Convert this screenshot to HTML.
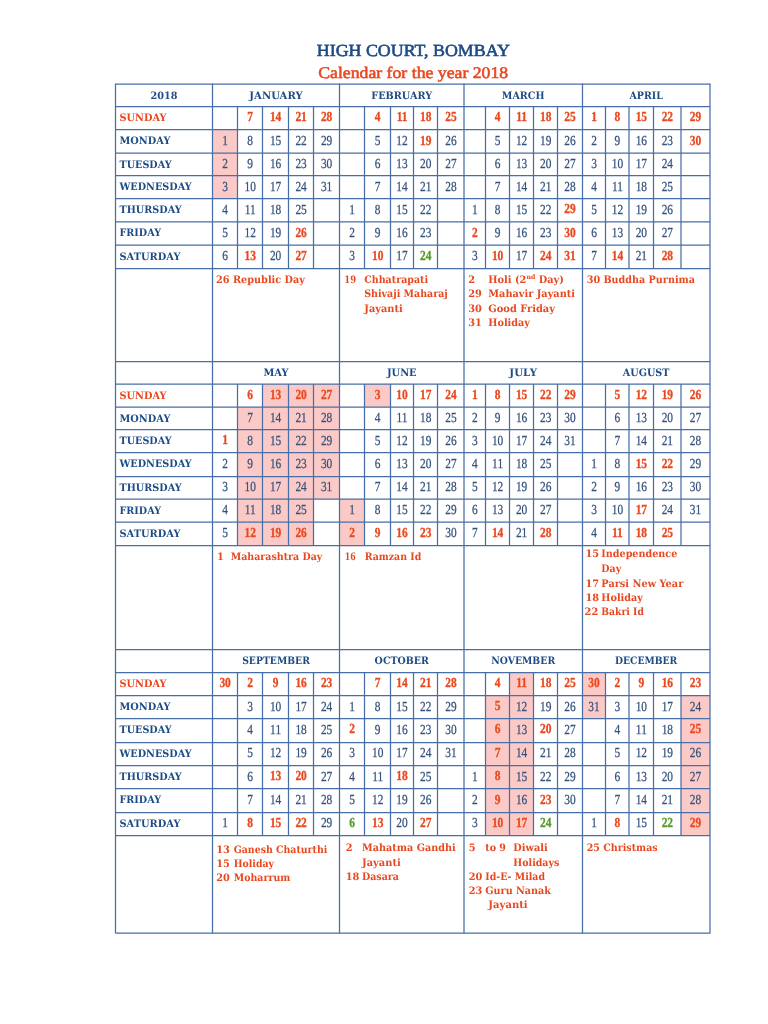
<!DOCTYPE html>
<html lang="en"><head><meta charset="utf-8"><title>High Court, Bombay - Calendar for the year 2018</title>
<style>html,body{margin:0;padding:0;background:#fff}svg{display:block;text-rendering:geometricPrecision}.lb{font-family:"DejaVu Serif",serif;font-weight:bold;font-size:9.8px}.nt{font-family:"DejaVu Serif",serif;font-weight:bold;font-size:9.8px;fill:#e9481f}.d{font-family:"Liberation Serif",serif;font-size:13.8px;fill:#33517c;stroke:#33517c;stroke-width:0.25px;text-anchor:middle}.b{font-family:"Liberation Serif",serif;font-size:13.8px;font-weight:bold;stroke-width:0.3px;text-anchor:middle}.t1{font-family:"Liberation Serif",serif;font-size:17px;fill:#1d4b85;stroke:#1d4b85;stroke-width:0.6px;text-anchor:middle}.t2{font-family:"Liberation Serif",serif;font-size:16.3px;fill:#e9481f;stroke:#e9481f;stroke-width:0.55px;text-anchor:middle}</style></head><body>
<svg width="768" height="1024" viewBox="0 0 768 1024">
<rect width="768" height="1024" fill="#fff"/>
<text class="t1" x="413.3" y="56.3" textLength="193" lengthAdjust="spacingAndGlyphs">HIGH COURT, BOMBAY</text>
<text class="t2" x="413.2" y="77.6" textLength="190" lengthAdjust="spacingAndGlyphs">Calendar for the year 2018</text>
<rect x="212.50" y="129.75" width="25.20" height="23.30" fill="#fccac6"/>
<rect x="212.50" y="153.05" width="25.20" height="22.80" fill="#fccac6"/>
<rect x="212.50" y="175.85" width="25.20" height="22.50" fill="#fccac6"/>
<rect x="237.70" y="407.00" width="25.00" height="22.50" fill="#fccac6"/>
<rect x="237.70" y="429.50" width="25.00" height="23.25" fill="#fccac6"/>
<rect x="237.70" y="452.75" width="25.00" height="23.50" fill="#fccac6"/>
<rect x="237.70" y="476.25" width="25.00" height="22.75" fill="#fccac6"/>
<rect x="237.70" y="499.00" width="25.00" height="23.00" fill="#fccac6"/>
<rect x="237.70" y="522.00" width="25.00" height="23.25" fill="#fccac6"/>
<rect x="262.70" y="384.00" width="25.80" height="23.00" fill="#fccac6"/>
<rect x="262.70" y="407.00" width="25.80" height="22.50" fill="#fccac6"/>
<rect x="262.70" y="429.50" width="25.80" height="23.25" fill="#fccac6"/>
<rect x="262.70" y="452.75" width="25.80" height="23.50" fill="#fccac6"/>
<rect x="262.70" y="476.25" width="25.80" height="22.75" fill="#fccac6"/>
<rect x="262.70" y="499.00" width="25.80" height="23.00" fill="#fccac6"/>
<rect x="262.70" y="522.00" width="25.80" height="23.25" fill="#fccac6"/>
<rect x="288.50" y="384.00" width="25.20" height="23.00" fill="#fccac6"/>
<rect x="288.50" y="407.00" width="25.20" height="22.50" fill="#fccac6"/>
<rect x="288.50" y="429.50" width="25.20" height="23.25" fill="#fccac6"/>
<rect x="288.50" y="452.75" width="25.20" height="23.50" fill="#fccac6"/>
<rect x="288.50" y="476.25" width="25.20" height="22.75" fill="#fccac6"/>
<rect x="288.50" y="499.00" width="25.20" height="23.00" fill="#fccac6"/>
<rect x="288.50" y="522.00" width="25.20" height="23.25" fill="#fccac6"/>
<rect x="313.70" y="384.00" width="25.80" height="23.00" fill="#fccac6"/>
<rect x="313.70" y="407.00" width="25.80" height="22.50" fill="#fccac6"/>
<rect x="313.70" y="429.50" width="25.80" height="23.25" fill="#fccac6"/>
<rect x="313.70" y="452.75" width="25.80" height="23.50" fill="#fccac6"/>
<rect x="313.70" y="476.25" width="25.80" height="22.75" fill="#fccac6"/>
<rect x="339.50" y="499.00" width="25.20" height="23.00" fill="#fccac6"/>
<rect x="339.50" y="522.00" width="25.20" height="23.25" fill="#fccac6"/>
<rect x="364.70" y="384.00" width="25.90" height="23.00" fill="#fccac6"/>
<rect x="485.60" y="695.50" width="24.00" height="23.00" fill="#fccac6"/>
<rect x="485.60" y="718.50" width="24.00" height="23.75" fill="#fccac6"/>
<rect x="485.60" y="742.25" width="24.00" height="23.25" fill="#fccac6"/>
<rect x="485.60" y="765.50" width="24.00" height="23.25" fill="#fccac6"/>
<rect x="485.60" y="788.75" width="24.00" height="23.50" fill="#fccac6"/>
<rect x="485.60" y="812.25" width="24.00" height="23.25" fill="#fccac6"/>
<rect x="509.60" y="672.25" width="24.00" height="23.25" fill="#fccac6"/>
<rect x="509.60" y="695.50" width="24.00" height="23.00" fill="#fccac6"/>
<rect x="509.60" y="718.50" width="24.00" height="23.75" fill="#fccac6"/>
<rect x="509.60" y="742.25" width="24.00" height="23.25" fill="#fccac6"/>
<rect x="509.60" y="765.50" width="24.00" height="23.25" fill="#fccac6"/>
<rect x="509.60" y="788.75" width="24.00" height="23.50" fill="#fccac6"/>
<rect x="509.60" y="812.25" width="24.00" height="23.25" fill="#fccac6"/>
<rect x="582.30" y="672.25" width="23.45" height="23.25" fill="#fccac6"/>
<rect x="582.30" y="695.50" width="23.45" height="23.00" fill="#fccac6"/>
<rect x="681.00" y="695.50" width="29.00" height="23.00" fill="#fccac6"/>
<rect x="681.00" y="718.50" width="29.00" height="23.75" fill="#fccac6"/>
<rect x="681.00" y="742.25" width="29.00" height="23.25" fill="#fccac6"/>
<rect x="681.00" y="765.50" width="29.00" height="23.25" fill="#fccac6"/>
<rect x="681.00" y="788.75" width="29.00" height="23.50" fill="#fccac6"/>
<rect x="681.00" y="812.25" width="29.00" height="23.25" fill="#fccac6"/>
<g stroke="#476ea6" stroke-width="1.25" fill="none">
<line x1="115.75" y1="84.10" x2="710.00" y2="84.10"/>
<line x1="115.75" y1="106.50" x2="710.00" y2="106.50"/>
<line x1="115.75" y1="129.50" x2="710.00" y2="129.50"/>
<line x1="115.75" y1="153.05" x2="710.00" y2="153.05"/>
<line x1="115.75" y1="175.50" x2="710.00" y2="175.50"/>
<line x1="115.75" y1="198.50" x2="710.00" y2="198.50"/>
<line x1="115.75" y1="221.90" x2="710.00" y2="221.90"/>
<line x1="115.75" y1="245.15" x2="710.00" y2="245.15"/>
<line x1="115.75" y1="268.50" x2="710.00" y2="268.50"/>
<line x1="237.50" y1="106.35" x2="237.50" y2="268.50"/>
<line x1="262.50" y1="106.35" x2="262.50" y2="268.50"/>
<line x1="288.50" y1="106.35" x2="288.50" y2="268.50"/>
<line x1="313.50" y1="106.35" x2="313.50" y2="268.50"/>
<line x1="364.50" y1="106.35" x2="364.50" y2="268.50"/>
<line x1="390.50" y1="106.35" x2="390.50" y2="268.50"/>
<line x1="413.50" y1="106.35" x2="413.50" y2="268.50"/>
<line x1="437.50" y1="106.35" x2="437.50" y2="268.50"/>
<line x1="485.50" y1="106.35" x2="485.50" y2="268.50"/>
<line x1="509.50" y1="106.35" x2="509.50" y2="268.50"/>
<line x1="533.50" y1="106.35" x2="533.50" y2="268.50"/>
<line x1="557.50" y1="106.35" x2="557.50" y2="268.50"/>
<line x1="605.50" y1="106.35" x2="605.50" y2="268.50"/>
<line x1="629.00" y1="106.35" x2="629.00" y2="268.50"/>
<line x1="653.50" y1="106.35" x2="653.50" y2="268.50"/>
<line x1="681.00" y1="106.35" x2="681.00" y2="268.50"/>
<line x1="115.75" y1="361.50" x2="710.00" y2="361.50"/>
<line x1="115.75" y1="384.00" x2="710.00" y2="384.00"/>
<line x1="115.75" y1="407.00" x2="710.00" y2="407.00"/>
<line x1="115.75" y1="429.50" x2="710.00" y2="429.50"/>
<line x1="115.75" y1="452.50" x2="710.00" y2="452.50"/>
<line x1="115.75" y1="476.50" x2="710.00" y2="476.50"/>
<line x1="115.75" y1="499.00" x2="710.00" y2="499.00"/>
<line x1="115.75" y1="522.00" x2="710.00" y2="522.00"/>
<line x1="115.75" y1="545.50" x2="710.00" y2="545.50"/>
<line x1="237.50" y1="384.00" x2="237.50" y2="545.25"/>
<line x1="262.50" y1="384.00" x2="262.50" y2="545.25"/>
<line x1="288.50" y1="384.00" x2="288.50" y2="545.25"/>
<line x1="313.50" y1="384.00" x2="313.50" y2="545.25"/>
<line x1="364.50" y1="384.00" x2="364.50" y2="545.25"/>
<line x1="390.50" y1="384.00" x2="390.50" y2="545.25"/>
<line x1="413.50" y1="384.00" x2="413.50" y2="545.25"/>
<line x1="437.50" y1="384.00" x2="437.50" y2="545.25"/>
<line x1="485.50" y1="384.00" x2="485.50" y2="545.25"/>
<line x1="509.50" y1="384.00" x2="509.50" y2="545.25"/>
<line x1="533.50" y1="384.00" x2="533.50" y2="545.25"/>
<line x1="557.50" y1="384.00" x2="557.50" y2="545.25"/>
<line x1="605.50" y1="384.00" x2="605.50" y2="545.25"/>
<line x1="629.00" y1="384.00" x2="629.00" y2="545.25"/>
<line x1="653.50" y1="384.00" x2="653.50" y2="545.25"/>
<line x1="681.00" y1="384.00" x2="681.00" y2="545.25"/>
<line x1="115.75" y1="649.50" x2="710.00" y2="649.50"/>
<line x1="115.75" y1="672.50" x2="710.00" y2="672.50"/>
<line x1="115.75" y1="695.50" x2="710.00" y2="695.50"/>
<line x1="115.75" y1="718.50" x2="710.00" y2="718.50"/>
<line x1="115.75" y1="742.50" x2="710.00" y2="742.50"/>
<line x1="115.75" y1="765.50" x2="710.00" y2="765.50"/>
<line x1="115.75" y1="788.50" x2="710.00" y2="788.50"/>
<line x1="115.75" y1="812.50" x2="710.00" y2="812.50"/>
<line x1="115.75" y1="835.50" x2="710.00" y2="835.50"/>
<line x1="237.50" y1="672.25" x2="237.50" y2="835.50"/>
<line x1="262.50" y1="672.25" x2="262.50" y2="835.50"/>
<line x1="288.50" y1="672.25" x2="288.50" y2="835.50"/>
<line x1="313.50" y1="672.25" x2="313.50" y2="835.50"/>
<line x1="364.50" y1="672.25" x2="364.50" y2="835.50"/>
<line x1="390.50" y1="672.25" x2="390.50" y2="835.50"/>
<line x1="413.50" y1="672.25" x2="413.50" y2="835.50"/>
<line x1="437.50" y1="672.25" x2="437.50" y2="835.50"/>
<line x1="485.50" y1="672.25" x2="485.50" y2="835.50"/>
<line x1="509.50" y1="672.25" x2="509.50" y2="835.50"/>
<line x1="533.50" y1="672.25" x2="533.50" y2="835.50"/>
<line x1="557.50" y1="672.25" x2="557.50" y2="835.50"/>
<line x1="605.50" y1="672.25" x2="605.50" y2="835.50"/>
<line x1="629.00" y1="672.25" x2="629.00" y2="835.50"/>
<line x1="653.50" y1="672.25" x2="653.50" y2="835.50"/>
<line x1="681.00" y1="672.25" x2="681.00" y2="835.50"/>
<line x1="115.75" y1="933.00" x2="710.00" y2="933.00"/>
<line x1="115.50" y1="83.47" x2="115.50" y2="933.62"/>
<line x1="212.50" y1="83.47" x2="212.50" y2="933.62"/>
<line x1="339.50" y1="83.47" x2="339.50" y2="933.62"/>
<line x1="464.00" y1="83.47" x2="464.00" y2="933.62"/>
<line x1="582.50" y1="83.47" x2="582.50" y2="933.62"/>
<line x1="710.00" y1="83.47" x2="710.00" y2="933.62"/>
</g>
<text class="lb" transform="translate(164.12 98.60) scale(1 1.050)" fill="#1d4b85" text-anchor="middle" textLength="27.0" lengthAdjust="spacingAndGlyphs">2018</text>
<text class="lb" transform="translate(276.00 98.60) scale(1 1.050)" fill="#1d4b85" text-anchor="middle" textLength="53.3" lengthAdjust="spacingAndGlyphs">JANUARY</text>
<text class="lb" transform="translate(401.75 98.60) scale(1 1.050)" fill="#1d4b85" text-anchor="middle" textLength="61.0" lengthAdjust="spacingAndGlyphs">FEBRUARY</text>
<text class="lb" transform="translate(523.15 98.60) scale(1 1.050)" fill="#1d4b85" text-anchor="middle" textLength="42.7" lengthAdjust="spacingAndGlyphs">MARCH</text>
<text class="lb" transform="translate(646.15 98.60) scale(1 1.050)" fill="#1d4b85" text-anchor="middle" textLength="33.3" lengthAdjust="spacingAndGlyphs">APRIL</text>
<text class="lb" transform="translate(119.50 120.85) scale(1 1.050)" fill="#e9481f" textLength="47.0" lengthAdjust="spacingAndGlyphs">SUNDAY</text>
<text class="lb" transform="translate(119.50 144.25) scale(1 1.050)" fill="#1d4b85" textLength="50.9" lengthAdjust="spacingAndGlyphs">MONDAY</text>
<text class="lb" transform="translate(119.50 167.55) scale(1 1.050)" fill="#1d4b85" textLength="52.1" lengthAdjust="spacingAndGlyphs">TUESDAY</text>
<text class="lb" transform="translate(119.50 190.35) scale(1 1.050)" fill="#1d4b85" textLength="72.1" lengthAdjust="spacingAndGlyphs">WEDNESDAY</text>
<text class="lb" transform="translate(119.50 212.85) scale(1 1.050)" fill="#1d4b85" textLength="62.1" lengthAdjust="spacingAndGlyphs">THURSDAY</text>
<text class="lb" transform="translate(119.50 236.40) scale(1 1.050)" fill="#1d4b85" textLength="41.6" lengthAdjust="spacingAndGlyphs">FRIDAY</text>
<text class="lb" transform="translate(119.50 259.65) scale(1 1.050)" fill="#1d4b85" textLength="60.9" lengthAdjust="spacingAndGlyphs">SATURDAY</text>
<text class="d" transform="translate(225.10 144.90) scale(0.825 1)">1</text>
<text class="d" transform="translate(225.10 168.20) scale(0.825 1)">2</text>
<text class="d" transform="translate(225.10 191.00) scale(0.825 1)">3</text>
<text class="d" transform="translate(225.10 213.50) scale(0.825 1)">4</text>
<text class="d" transform="translate(225.10 237.05) scale(0.825 1)">5</text>
<text class="d" transform="translate(225.10 260.30) scale(0.825 1)">6</text>
<text class="b" transform="translate(250.20 121.10) scale(0.830 1)" fill="#e9481f" stroke="#e9481f">7</text>
<text class="d" transform="translate(250.20 144.90) scale(0.825 1)">8</text>
<text class="d" transform="translate(250.20 168.20) scale(0.825 1)">9</text>
<text class="d" transform="translate(250.20 191.00) scale(0.825 1)">10</text>
<text class="d" transform="translate(250.20 213.50) scale(0.825 1)">11</text>
<text class="d" transform="translate(250.20 237.05) scale(0.825 1)">12</text>
<text class="b" transform="translate(250.20 259.90) scale(0.830 1)" fill="#e9481f" stroke="#e9481f">13</text>
<text class="b" transform="translate(275.60 121.10) scale(0.830 1)" fill="#e9481f" stroke="#e9481f">14</text>
<text class="d" transform="translate(275.60 144.90) scale(0.825 1)">15</text>
<text class="d" transform="translate(275.60 168.20) scale(0.825 1)">16</text>
<text class="d" transform="translate(275.60 191.00) scale(0.825 1)">17</text>
<text class="d" transform="translate(275.60 213.50) scale(0.825 1)">18</text>
<text class="d" transform="translate(275.60 237.05) scale(0.825 1)">19</text>
<text class="d" transform="translate(275.60 260.30) scale(0.825 1)">20</text>
<text class="b" transform="translate(301.10 121.10) scale(0.830 1)" fill="#e9481f" stroke="#e9481f">21</text>
<text class="d" transform="translate(301.10 144.90) scale(0.825 1)">22</text>
<text class="d" transform="translate(301.10 168.20) scale(0.825 1)">23</text>
<text class="d" transform="translate(301.10 191.00) scale(0.825 1)">24</text>
<text class="d" transform="translate(301.10 213.50) scale(0.825 1)">25</text>
<text class="b" transform="translate(301.10 236.65) scale(0.830 1)" fill="#e9481f" stroke="#e9481f">26</text>
<text class="b" transform="translate(301.10 259.90) scale(0.830 1)" fill="#e9481f" stroke="#e9481f">27</text>
<text class="b" transform="translate(326.60 121.10) scale(0.830 1)" fill="#e9481f" stroke="#e9481f">28</text>
<text class="d" transform="translate(326.60 144.90) scale(0.825 1)">29</text>
<text class="d" transform="translate(326.60 168.20) scale(0.825 1)">30</text>
<text class="d" transform="translate(326.60 191.00) scale(0.825 1)">31</text>
<text class="d" transform="translate(352.10 213.50) scale(0.825 1)">1</text>
<text class="d" transform="translate(352.10 237.05) scale(0.825 1)">2</text>
<text class="d" transform="translate(352.10 260.30) scale(0.825 1)">3</text>
<text class="b" transform="translate(377.65 121.10) scale(0.830 1)" fill="#e9481f" stroke="#e9481f">4</text>
<text class="d" transform="translate(377.65 144.90) scale(0.825 1)">5</text>
<text class="d" transform="translate(377.65 168.20) scale(0.825 1)">6</text>
<text class="d" transform="translate(377.65 191.00) scale(0.825 1)">7</text>
<text class="d" transform="translate(377.65 213.50) scale(0.825 1)">8</text>
<text class="d" transform="translate(377.65 237.05) scale(0.825 1)">9</text>
<text class="b" transform="translate(377.65 259.90) scale(0.830 1)" fill="#e9481f" stroke="#e9481f">10</text>
<text class="b" transform="translate(402.05 121.10) scale(0.830 1)" fill="#e9481f" stroke="#e9481f">11</text>
<text class="d" transform="translate(402.05 144.90) scale(0.825 1)">12</text>
<text class="d" transform="translate(402.05 168.20) scale(0.825 1)">13</text>
<text class="d" transform="translate(402.05 191.00) scale(0.825 1)">14</text>
<text class="d" transform="translate(402.05 213.50) scale(0.825 1)">15</text>
<text class="d" transform="translate(402.05 237.05) scale(0.825 1)">16</text>
<text class="d" transform="translate(402.05 260.30) scale(0.825 1)">17</text>
<text class="b" transform="translate(425.65 121.10) scale(0.830 1)" fill="#e9481f" stroke="#e9481f">18</text>
<text class="b" transform="translate(425.65 144.50) scale(0.830 1)" fill="#e9481f" stroke="#e9481f">19</text>
<text class="d" transform="translate(425.65 168.20) scale(0.825 1)">20</text>
<text class="d" transform="translate(425.65 191.00) scale(0.825 1)">21</text>
<text class="d" transform="translate(425.65 213.50) scale(0.825 1)">22</text>
<text class="d" transform="translate(425.65 237.05) scale(0.825 1)">23</text>
<text class="b" transform="translate(425.65 259.90) scale(0.830 1)" fill="#5b9a2b" stroke="#5b9a2b">24</text>
<text class="b" transform="translate(450.90 121.10) scale(0.830 1)" fill="#e9481f" stroke="#e9481f">25</text>
<text class="d" transform="translate(450.90 144.90) scale(0.825 1)">26</text>
<text class="d" transform="translate(450.90 168.20) scale(0.825 1)">27</text>
<text class="d" transform="translate(450.90 191.00) scale(0.825 1)">28</text>
<text class="d" transform="translate(474.80 213.50) scale(0.825 1)">1</text>
<text class="b" transform="translate(474.80 236.65) scale(0.830 1)" fill="#e9481f" stroke="#e9481f">2</text>
<text class="d" transform="translate(474.80 260.30) scale(0.825 1)">3</text>
<text class="b" transform="translate(497.60 121.10) scale(0.830 1)" fill="#e9481f" stroke="#e9481f">4</text>
<text class="d" transform="translate(497.60 144.90) scale(0.825 1)">5</text>
<text class="d" transform="translate(497.60 168.20) scale(0.825 1)">6</text>
<text class="d" transform="translate(497.60 191.00) scale(0.825 1)">7</text>
<text class="d" transform="translate(497.60 213.50) scale(0.825 1)">8</text>
<text class="d" transform="translate(497.60 237.05) scale(0.825 1)">9</text>
<text class="b" transform="translate(497.60 259.90) scale(0.830 1)" fill="#e9481f" stroke="#e9481f">10</text>
<text class="b" transform="translate(521.60 121.10) scale(0.830 1)" fill="#e9481f" stroke="#e9481f">11</text>
<text class="d" transform="translate(521.60 144.90) scale(0.825 1)">12</text>
<text class="d" transform="translate(521.60 168.20) scale(0.825 1)">13</text>
<text class="d" transform="translate(521.60 191.00) scale(0.825 1)">14</text>
<text class="d" transform="translate(521.60 213.50) scale(0.825 1)">15</text>
<text class="d" transform="translate(521.60 237.05) scale(0.825 1)">16</text>
<text class="d" transform="translate(521.60 260.30) scale(0.825 1)">17</text>
<text class="b" transform="translate(545.65 121.10) scale(0.830 1)" fill="#e9481f" stroke="#e9481f">18</text>
<text class="d" transform="translate(545.65 144.90) scale(0.825 1)">19</text>
<text class="d" transform="translate(545.65 168.20) scale(0.825 1)">20</text>
<text class="d" transform="translate(545.65 191.00) scale(0.825 1)">21</text>
<text class="d" transform="translate(545.65 213.50) scale(0.825 1)">22</text>
<text class="d" transform="translate(545.65 237.05) scale(0.825 1)">23</text>
<text class="b" transform="translate(545.65 259.90) scale(0.830 1)" fill="#e9481f" stroke="#e9481f">24</text>
<text class="b" transform="translate(570.00 121.10) scale(0.830 1)" fill="#e9481f" stroke="#e9481f">25</text>
<text class="d" transform="translate(570.00 144.90) scale(0.825 1)">26</text>
<text class="d" transform="translate(570.00 168.20) scale(0.825 1)">27</text>
<text class="d" transform="translate(570.00 191.00) scale(0.825 1)">28</text>
<text class="b" transform="translate(570.00 213.10) scale(0.830 1)" fill="#e9481f" stroke="#e9481f">29</text>
<text class="b" transform="translate(570.00 236.65) scale(0.830 1)" fill="#e9481f" stroke="#e9481f">30</text>
<text class="b" transform="translate(570.00 259.90) scale(0.830 1)" fill="#e9481f" stroke="#e9481f">31</text>
<text class="b" transform="translate(594.02 121.10) scale(0.830 1)" fill="#e9481f" stroke="#e9481f">1</text>
<text class="d" transform="translate(594.02 144.90) scale(0.825 1)">2</text>
<text class="d" transform="translate(594.02 168.20) scale(0.825 1)">3</text>
<text class="d" transform="translate(594.02 191.00) scale(0.825 1)">4</text>
<text class="d" transform="translate(594.02 213.50) scale(0.825 1)">5</text>
<text class="d" transform="translate(594.02 237.05) scale(0.825 1)">6</text>
<text class="d" transform="translate(594.02 260.30) scale(0.825 1)">7</text>
<text class="b" transform="translate(617.38 121.10) scale(0.830 1)" fill="#e9481f" stroke="#e9481f">8</text>
<text class="d" transform="translate(617.38 144.90) scale(0.825 1)">9</text>
<text class="d" transform="translate(617.38 168.20) scale(0.825 1)">10</text>
<text class="d" transform="translate(617.38 191.00) scale(0.825 1)">11</text>
<text class="d" transform="translate(617.38 213.50) scale(0.825 1)">12</text>
<text class="d" transform="translate(617.38 237.05) scale(0.825 1)">13</text>
<text class="b" transform="translate(617.38 259.90) scale(0.830 1)" fill="#e9481f" stroke="#e9481f">14</text>
<text class="b" transform="translate(641.35 121.10) scale(0.830 1)" fill="#e9481f" stroke="#e9481f">15</text>
<text class="d" transform="translate(641.35 144.90) scale(0.825 1)">16</text>
<text class="d" transform="translate(641.35 168.20) scale(0.825 1)">17</text>
<text class="d" transform="translate(641.35 191.00) scale(0.825 1)">18</text>
<text class="d" transform="translate(641.35 213.50) scale(0.825 1)">19</text>
<text class="d" transform="translate(641.35 237.05) scale(0.825 1)">20</text>
<text class="d" transform="translate(641.35 260.30) scale(0.825 1)">21</text>
<text class="b" transform="translate(667.35 121.10) scale(0.830 1)" fill="#e9481f" stroke="#e9481f">22</text>
<text class="d" transform="translate(667.35 144.90) scale(0.825 1)">23</text>
<text class="d" transform="translate(667.35 168.20) scale(0.825 1)">24</text>
<text class="d" transform="translate(667.35 191.00) scale(0.825 1)">25</text>
<text class="d" transform="translate(667.35 213.50) scale(0.825 1)">26</text>
<text class="d" transform="translate(667.35 237.05) scale(0.825 1)">27</text>
<text class="b" transform="translate(667.35 259.90) scale(0.830 1)" fill="#e9481f" stroke="#e9481f">28</text>
<text class="b" transform="translate(695.50 121.10) scale(0.830 1)" fill="#e9481f" stroke="#e9481f">29</text>
<text class="b" transform="translate(695.50 144.50) scale(0.830 1)" fill="#e9481f" stroke="#e9481f">30</text>
<text class="lb" transform="translate(276.00 376.00) scale(1 1.050)" fill="#1d4b85" text-anchor="middle" textLength="25.0" lengthAdjust="spacingAndGlyphs">MAY</text>
<text class="lb" transform="translate(401.75 376.00) scale(1 1.050)" fill="#1d4b85" text-anchor="middle" textLength="29.7" lengthAdjust="spacingAndGlyphs">JUNE</text>
<text class="lb" transform="translate(523.15 376.00) scale(1 1.050)" fill="#1d4b85" text-anchor="middle" textLength="27.7" lengthAdjust="spacingAndGlyphs">JULY</text>
<text class="lb" transform="translate(646.15 376.00) scale(1 1.050)" fill="#1d4b85" text-anchor="middle" textLength="46.7" lengthAdjust="spacingAndGlyphs">AUGUST</text>
<text class="lb" transform="translate(119.50 398.50) scale(1 1.050)" fill="#e9481f" textLength="47.0" lengthAdjust="spacingAndGlyphs">SUNDAY</text>
<text class="lb" transform="translate(119.50 421.50) scale(1 1.050)" fill="#1d4b85" textLength="50.9" lengthAdjust="spacingAndGlyphs">MONDAY</text>
<text class="lb" transform="translate(119.50 444.00) scale(1 1.050)" fill="#1d4b85" textLength="52.1" lengthAdjust="spacingAndGlyphs">TUESDAY</text>
<text class="lb" transform="translate(119.50 467.25) scale(1 1.050)" fill="#1d4b85" textLength="72.1" lengthAdjust="spacingAndGlyphs">WEDNESDAY</text>
<text class="lb" transform="translate(119.50 490.75) scale(1 1.050)" fill="#1d4b85" textLength="62.1" lengthAdjust="spacingAndGlyphs">THURSDAY</text>
<text class="lb" transform="translate(119.50 513.50) scale(1 1.050)" fill="#1d4b85" textLength="41.6" lengthAdjust="spacingAndGlyphs">FRIDAY</text>
<text class="lb" transform="translate(119.50 536.50) scale(1 1.050)" fill="#1d4b85" textLength="60.9" lengthAdjust="spacingAndGlyphs">SATURDAY</text>
<text class="b" transform="translate(225.10 444.25) scale(0.830 1)" fill="#e9481f" stroke="#e9481f">1</text>
<text class="d" transform="translate(225.10 467.90) scale(0.825 1)">2</text>
<text class="d" transform="translate(225.10 491.40) scale(0.825 1)">3</text>
<text class="d" transform="translate(225.10 514.15) scale(0.825 1)">4</text>
<text class="d" transform="translate(225.10 537.15) scale(0.825 1)">5</text>
<text class="b" transform="translate(250.20 398.75) scale(0.830 1)" fill="#e9481f" stroke="#e9481f">6</text>
<text class="d" transform="translate(250.20 422.15) scale(0.825 1)">7</text>
<text class="d" transform="translate(250.20 444.65) scale(0.825 1)">8</text>
<text class="d" transform="translate(250.20 467.90) scale(0.825 1)">9</text>
<text class="d" transform="translate(250.20 491.40) scale(0.825 1)">10</text>
<text class="d" transform="translate(250.20 514.15) scale(0.825 1)">11</text>
<text class="b" transform="translate(250.20 536.75) scale(0.830 1)" fill="#e9481f" stroke="#e9481f">12</text>
<text class="b" transform="translate(275.60 398.75) scale(0.830 1)" fill="#e9481f" stroke="#e9481f">13</text>
<text class="d" transform="translate(275.60 422.15) scale(0.825 1)">14</text>
<text class="d" transform="translate(275.60 444.65) scale(0.825 1)">15</text>
<text class="d" transform="translate(275.60 467.90) scale(0.825 1)">16</text>
<text class="d" transform="translate(275.60 491.40) scale(0.825 1)">17</text>
<text class="d" transform="translate(275.60 514.15) scale(0.825 1)">18</text>
<text class="b" transform="translate(275.60 536.75) scale(0.830 1)" fill="#e9481f" stroke="#e9481f">19</text>
<text class="b" transform="translate(301.10 398.75) scale(0.830 1)" fill="#e9481f" stroke="#e9481f">20</text>
<text class="d" transform="translate(301.10 422.15) scale(0.825 1)">21</text>
<text class="d" transform="translate(301.10 444.65) scale(0.825 1)">22</text>
<text class="d" transform="translate(301.10 467.90) scale(0.825 1)">23</text>
<text class="d" transform="translate(301.10 491.40) scale(0.825 1)">24</text>
<text class="d" transform="translate(301.10 514.15) scale(0.825 1)">25</text>
<text class="b" transform="translate(301.10 536.75) scale(0.830 1)" fill="#e9481f" stroke="#e9481f">26</text>
<text class="b" transform="translate(326.60 398.75) scale(0.830 1)" fill="#e9481f" stroke="#e9481f">27</text>
<text class="d" transform="translate(326.60 422.15) scale(0.825 1)">28</text>
<text class="d" transform="translate(326.60 444.65) scale(0.825 1)">29</text>
<text class="d" transform="translate(326.60 467.90) scale(0.825 1)">30</text>
<text class="d" transform="translate(326.60 491.40) scale(0.825 1)">31</text>
<text class="d" transform="translate(352.10 514.15) scale(0.825 1)">1</text>
<text class="b" transform="translate(352.10 536.75) scale(0.830 1)" fill="#e9481f" stroke="#e9481f">2</text>
<text class="b" transform="translate(377.65 398.75) scale(0.830 1)" fill="#e9481f" stroke="#e9481f">3</text>
<text class="d" transform="translate(377.65 422.15) scale(0.825 1)">4</text>
<text class="d" transform="translate(377.65 444.65) scale(0.825 1)">5</text>
<text class="d" transform="translate(377.65 467.90) scale(0.825 1)">6</text>
<text class="d" transform="translate(377.65 491.40) scale(0.825 1)">7</text>
<text class="d" transform="translate(377.65 514.15) scale(0.825 1)">8</text>
<text class="b" transform="translate(377.65 536.75) scale(0.830 1)" fill="#e9481f" stroke="#e9481f">9</text>
<text class="b" transform="translate(402.05 398.75) scale(0.830 1)" fill="#e9481f" stroke="#e9481f">10</text>
<text class="d" transform="translate(402.05 422.15) scale(0.825 1)">11</text>
<text class="d" transform="translate(402.05 444.65) scale(0.825 1)">12</text>
<text class="d" transform="translate(402.05 467.90) scale(0.825 1)">13</text>
<text class="d" transform="translate(402.05 491.40) scale(0.825 1)">14</text>
<text class="d" transform="translate(402.05 514.15) scale(0.825 1)">15</text>
<text class="b" transform="translate(402.05 536.75) scale(0.830 1)" fill="#e9481f" stroke="#e9481f">16</text>
<text class="b" transform="translate(425.65 398.75) scale(0.830 1)" fill="#e9481f" stroke="#e9481f">17</text>
<text class="d" transform="translate(425.65 422.15) scale(0.825 1)">18</text>
<text class="d" transform="translate(425.65 444.65) scale(0.825 1)">19</text>
<text class="d" transform="translate(425.65 467.90) scale(0.825 1)">20</text>
<text class="d" transform="translate(425.65 491.40) scale(0.825 1)">21</text>
<text class="d" transform="translate(425.65 514.15) scale(0.825 1)">22</text>
<text class="b" transform="translate(425.65 536.75) scale(0.830 1)" fill="#e9481f" stroke="#e9481f">23</text>
<text class="b" transform="translate(450.90 398.75) scale(0.830 1)" fill="#e9481f" stroke="#e9481f">24</text>
<text class="d" transform="translate(450.90 422.15) scale(0.825 1)">25</text>
<text class="d" transform="translate(450.90 444.65) scale(0.825 1)">26</text>
<text class="d" transform="translate(450.90 467.90) scale(0.825 1)">27</text>
<text class="d" transform="translate(450.90 491.40) scale(0.825 1)">28</text>
<text class="d" transform="translate(450.90 514.15) scale(0.825 1)">29</text>
<text class="d" transform="translate(450.90 537.15) scale(0.825 1)">30</text>
<text class="b" transform="translate(474.80 398.75) scale(0.830 1)" fill="#e9481f" stroke="#e9481f">1</text>
<text class="d" transform="translate(474.80 422.15) scale(0.825 1)">2</text>
<text class="d" transform="translate(474.80 444.65) scale(0.825 1)">3</text>
<text class="d" transform="translate(474.80 467.90) scale(0.825 1)">4</text>
<text class="d" transform="translate(474.80 491.40) scale(0.825 1)">5</text>
<text class="d" transform="translate(474.80 514.15) scale(0.825 1)">6</text>
<text class="d" transform="translate(474.80 537.15) scale(0.825 1)">7</text>
<text class="b" transform="translate(497.60 398.75) scale(0.830 1)" fill="#e9481f" stroke="#e9481f">8</text>
<text class="d" transform="translate(497.60 422.15) scale(0.825 1)">9</text>
<text class="d" transform="translate(497.60 444.65) scale(0.825 1)">10</text>
<text class="d" transform="translate(497.60 467.90) scale(0.825 1)">11</text>
<text class="d" transform="translate(497.60 491.40) scale(0.825 1)">12</text>
<text class="d" transform="translate(497.60 514.15) scale(0.825 1)">13</text>
<text class="b" transform="translate(497.60 536.75) scale(0.830 1)" fill="#e9481f" stroke="#e9481f">14</text>
<text class="b" transform="translate(521.60 398.75) scale(0.830 1)" fill="#e9481f" stroke="#e9481f">15</text>
<text class="d" transform="translate(521.60 422.15) scale(0.825 1)">16</text>
<text class="d" transform="translate(521.60 444.65) scale(0.825 1)">17</text>
<text class="d" transform="translate(521.60 467.90) scale(0.825 1)">18</text>
<text class="d" transform="translate(521.60 491.40) scale(0.825 1)">19</text>
<text class="d" transform="translate(521.60 514.15) scale(0.825 1)">20</text>
<text class="d" transform="translate(521.60 537.15) scale(0.825 1)">21</text>
<text class="b" transform="translate(545.65 398.75) scale(0.830 1)" fill="#e9481f" stroke="#e9481f">22</text>
<text class="d" transform="translate(545.65 422.15) scale(0.825 1)">23</text>
<text class="d" transform="translate(545.65 444.65) scale(0.825 1)">24</text>
<text class="d" transform="translate(545.65 467.90) scale(0.825 1)">25</text>
<text class="d" transform="translate(545.65 491.40) scale(0.825 1)">26</text>
<text class="d" transform="translate(545.65 514.15) scale(0.825 1)">27</text>
<text class="b" transform="translate(545.65 536.75) scale(0.830 1)" fill="#e9481f" stroke="#e9481f">28</text>
<text class="b" transform="translate(570.00 398.75) scale(0.830 1)" fill="#e9481f" stroke="#e9481f">29</text>
<text class="d" transform="translate(570.00 422.15) scale(0.825 1)">30</text>
<text class="d" transform="translate(570.00 444.65) scale(0.825 1)">31</text>
<text class="d" transform="translate(594.02 467.90) scale(0.825 1)">1</text>
<text class="d" transform="translate(594.02 491.40) scale(0.825 1)">2</text>
<text class="d" transform="translate(594.02 514.15) scale(0.825 1)">3</text>
<text class="d" transform="translate(594.02 537.15) scale(0.825 1)">4</text>
<text class="b" transform="translate(617.38 398.75) scale(0.830 1)" fill="#e9481f" stroke="#e9481f">5</text>
<text class="d" transform="translate(617.38 422.15) scale(0.825 1)">6</text>
<text class="d" transform="translate(617.38 444.65) scale(0.825 1)">7</text>
<text class="d" transform="translate(617.38 467.90) scale(0.825 1)">8</text>
<text class="d" transform="translate(617.38 491.40) scale(0.825 1)">9</text>
<text class="d" transform="translate(617.38 514.15) scale(0.825 1)">10</text>
<text class="b" transform="translate(617.38 536.75) scale(0.830 1)" fill="#e9481f" stroke="#e9481f">11</text>
<text class="b" transform="translate(641.35 398.75) scale(0.830 1)" fill="#e9481f" stroke="#e9481f">12</text>
<text class="d" transform="translate(641.35 422.15) scale(0.825 1)">13</text>
<text class="d" transform="translate(641.35 444.65) scale(0.825 1)">14</text>
<text class="b" transform="translate(641.35 467.50) scale(0.830 1)" fill="#e9481f" stroke="#e9481f">15</text>
<text class="d" transform="translate(641.35 491.40) scale(0.825 1)">16</text>
<text class="b" transform="translate(641.35 513.75) scale(0.830 1)" fill="#e9481f" stroke="#e9481f">17</text>
<text class="b" transform="translate(641.35 536.75) scale(0.830 1)" fill="#e9481f" stroke="#e9481f">18</text>
<text class="b" transform="translate(667.35 398.75) scale(0.830 1)" fill="#e9481f" stroke="#e9481f">19</text>
<text class="d" transform="translate(667.35 422.15) scale(0.825 1)">20</text>
<text class="d" transform="translate(667.35 444.65) scale(0.825 1)">21</text>
<text class="b" transform="translate(667.35 467.50) scale(0.830 1)" fill="#e9481f" stroke="#e9481f">22</text>
<text class="d" transform="translate(667.35 491.40) scale(0.825 1)">23</text>
<text class="d" transform="translate(667.35 514.15) scale(0.825 1)">24</text>
<text class="b" transform="translate(667.35 536.75) scale(0.830 1)" fill="#e9481f" stroke="#e9481f">25</text>
<text class="b" transform="translate(695.50 398.75) scale(0.830 1)" fill="#e9481f" stroke="#e9481f">26</text>
<text class="d" transform="translate(695.50 422.15) scale(0.825 1)">27</text>
<text class="d" transform="translate(695.50 444.65) scale(0.825 1)">28</text>
<text class="d" transform="translate(695.50 467.90) scale(0.825 1)">29</text>
<text class="d" transform="translate(695.50 491.40) scale(0.825 1)">30</text>
<text class="d" transform="translate(695.50 514.15) scale(0.825 1)">31</text>
<text class="lb" transform="translate(276.00 664.25) scale(1 1.050)" fill="#1d4b85" text-anchor="middle" textLength="67.7" lengthAdjust="spacingAndGlyphs">SEPTEMBER</text>
<text class="lb" transform="translate(401.75 664.25) scale(1 1.050)" fill="#1d4b85" text-anchor="middle" textLength="54.3" lengthAdjust="spacingAndGlyphs">OCTOBER</text>
<text class="lb" transform="translate(523.15 664.25) scale(1 1.050)" fill="#1d4b85" text-anchor="middle" textLength="64.0" lengthAdjust="spacingAndGlyphs">NOVEMBER</text>
<text class="lb" transform="translate(646.15 664.25) scale(1 1.050)" fill="#1d4b85" text-anchor="middle" textLength="62.3" lengthAdjust="spacingAndGlyphs">DECEMBER</text>
<text class="lb" transform="translate(119.50 686.75) scale(1 1.050)" fill="#e9481f" textLength="47.0" lengthAdjust="spacingAndGlyphs">SUNDAY</text>
<text class="lb" transform="translate(119.50 710.00) scale(1 1.050)" fill="#1d4b85" textLength="50.9" lengthAdjust="spacingAndGlyphs">MONDAY</text>
<text class="lb" transform="translate(119.50 733.00) scale(1 1.050)" fill="#1d4b85" textLength="52.1" lengthAdjust="spacingAndGlyphs">TUESDAY</text>
<text class="lb" transform="translate(119.50 756.75) scale(1 1.050)" fill="#1d4b85" textLength="72.1" lengthAdjust="spacingAndGlyphs">WEDNESDAY</text>
<text class="lb" transform="translate(119.50 780.00) scale(1 1.050)" fill="#1d4b85" textLength="62.1" lengthAdjust="spacingAndGlyphs">THURSDAY</text>
<text class="lb" transform="translate(119.50 803.25) scale(1 1.050)" fill="#1d4b85" textLength="41.6" lengthAdjust="spacingAndGlyphs">FRIDAY</text>
<text class="lb" transform="translate(119.50 826.75) scale(1 1.050)" fill="#1d4b85" textLength="60.9" lengthAdjust="spacingAndGlyphs">SATURDAY</text>
<text class="b" transform="translate(225.10 687.00) scale(0.830 1)" fill="#e9481f" stroke="#e9481f">30</text>
<text class="d" transform="translate(225.10 827.40) scale(0.825 1)">1</text>
<text class="b" transform="translate(250.20 687.00) scale(0.830 1)" fill="#e9481f" stroke="#e9481f">2</text>
<text class="d" transform="translate(250.20 710.65) scale(0.825 1)">3</text>
<text class="d" transform="translate(250.20 733.65) scale(0.825 1)">4</text>
<text class="d" transform="translate(250.20 757.40) scale(0.825 1)">5</text>
<text class="d" transform="translate(250.20 780.65) scale(0.825 1)">6</text>
<text class="d" transform="translate(250.20 803.90) scale(0.825 1)">7</text>
<text class="b" transform="translate(250.20 827.00) scale(0.830 1)" fill="#e9481f" stroke="#e9481f">8</text>
<text class="b" transform="translate(275.60 687.00) scale(0.830 1)" fill="#e9481f" stroke="#e9481f">9</text>
<text class="d" transform="translate(275.60 710.65) scale(0.825 1)">10</text>
<text class="d" transform="translate(275.60 733.65) scale(0.825 1)">11</text>
<text class="d" transform="translate(275.60 757.40) scale(0.825 1)">12</text>
<text class="b" transform="translate(275.60 780.25) scale(0.830 1)" fill="#e9481f" stroke="#e9481f">13</text>
<text class="d" transform="translate(275.60 803.90) scale(0.825 1)">14</text>
<text class="b" transform="translate(275.60 827.00) scale(0.830 1)" fill="#e9481f" stroke="#e9481f">15</text>
<text class="b" transform="translate(301.10 687.00) scale(0.830 1)" fill="#e9481f" stroke="#e9481f">16</text>
<text class="d" transform="translate(301.10 710.65) scale(0.825 1)">17</text>
<text class="d" transform="translate(301.10 733.65) scale(0.825 1)">18</text>
<text class="d" transform="translate(301.10 757.40) scale(0.825 1)">19</text>
<text class="b" transform="translate(301.10 780.25) scale(0.830 1)" fill="#e9481f" stroke="#e9481f">20</text>
<text class="d" transform="translate(301.10 803.90) scale(0.825 1)">21</text>
<text class="b" transform="translate(301.10 827.00) scale(0.830 1)" fill="#e9481f" stroke="#e9481f">22</text>
<text class="b" transform="translate(326.60 687.00) scale(0.830 1)" fill="#e9481f" stroke="#e9481f">23</text>
<text class="d" transform="translate(326.60 710.65) scale(0.825 1)">24</text>
<text class="d" transform="translate(326.60 733.65) scale(0.825 1)">25</text>
<text class="d" transform="translate(326.60 757.40) scale(0.825 1)">26</text>
<text class="d" transform="translate(326.60 780.65) scale(0.825 1)">27</text>
<text class="d" transform="translate(326.60 803.90) scale(0.825 1)">28</text>
<text class="d" transform="translate(326.60 827.40) scale(0.825 1)">29</text>
<text class="d" transform="translate(352.10 710.65) scale(0.825 1)">1</text>
<text class="b" transform="translate(352.10 733.25) scale(0.830 1)" fill="#e9481f" stroke="#e9481f">2</text>
<text class="d" transform="translate(352.10 757.40) scale(0.825 1)">3</text>
<text class="d" transform="translate(352.10 780.65) scale(0.825 1)">4</text>
<text class="d" transform="translate(352.10 803.90) scale(0.825 1)">5</text>
<text class="b" transform="translate(352.10 827.00) scale(0.830 1)" fill="#5b9a2b" stroke="#5b9a2b">6</text>
<text class="b" transform="translate(377.65 687.00) scale(0.830 1)" fill="#e9481f" stroke="#e9481f">7</text>
<text class="d" transform="translate(377.65 710.65) scale(0.825 1)">8</text>
<text class="d" transform="translate(377.65 733.65) scale(0.825 1)">9</text>
<text class="d" transform="translate(377.65 757.40) scale(0.825 1)">10</text>
<text class="d" transform="translate(377.65 780.65) scale(0.825 1)">11</text>
<text class="d" transform="translate(377.65 803.90) scale(0.825 1)">12</text>
<text class="b" transform="translate(377.65 827.00) scale(0.830 1)" fill="#e9481f" stroke="#e9481f">13</text>
<text class="b" transform="translate(402.05 687.00) scale(0.830 1)" fill="#e9481f" stroke="#e9481f">14</text>
<text class="d" transform="translate(402.05 710.65) scale(0.825 1)">15</text>
<text class="d" transform="translate(402.05 733.65) scale(0.825 1)">16</text>
<text class="d" transform="translate(402.05 757.40) scale(0.825 1)">17</text>
<text class="b" transform="translate(402.05 780.25) scale(0.830 1)" fill="#e9481f" stroke="#e9481f">18</text>
<text class="d" transform="translate(402.05 803.90) scale(0.825 1)">19</text>
<text class="d" transform="translate(402.05 827.40) scale(0.825 1)">20</text>
<text class="b" transform="translate(425.65 687.00) scale(0.830 1)" fill="#e9481f" stroke="#e9481f">21</text>
<text class="d" transform="translate(425.65 710.65) scale(0.825 1)">22</text>
<text class="d" transform="translate(425.65 733.65) scale(0.825 1)">23</text>
<text class="d" transform="translate(425.65 757.40) scale(0.825 1)">24</text>
<text class="d" transform="translate(425.65 780.65) scale(0.825 1)">25</text>
<text class="d" transform="translate(425.65 803.90) scale(0.825 1)">26</text>
<text class="b" transform="translate(425.65 827.00) scale(0.830 1)" fill="#e9481f" stroke="#e9481f">27</text>
<text class="b" transform="translate(450.90 687.00) scale(0.830 1)" fill="#e9481f" stroke="#e9481f">28</text>
<text class="d" transform="translate(450.90 710.65) scale(0.825 1)">29</text>
<text class="d" transform="translate(450.90 733.65) scale(0.825 1)">30</text>
<text class="d" transform="translate(450.90 757.40) scale(0.825 1)">31</text>
<text class="d" transform="translate(474.80 780.65) scale(0.825 1)">1</text>
<text class="d" transform="translate(474.80 803.90) scale(0.825 1)">2</text>
<text class="d" transform="translate(474.80 827.40) scale(0.825 1)">3</text>
<text class="b" transform="translate(497.60 687.00) scale(0.830 1)" fill="#e9481f" stroke="#e9481f">4</text>
<text class="b" transform="translate(497.60 710.25) scale(0.830 1)" fill="#e9481f" stroke="#e9481f">5</text>
<text class="b" transform="translate(497.60 733.25) scale(0.830 1)" fill="#e9481f" stroke="#e9481f">6</text>
<text class="b" transform="translate(497.60 757.00) scale(0.830 1)" fill="#e9481f" stroke="#e9481f">7</text>
<text class="b" transform="translate(497.60 780.25) scale(0.830 1)" fill="#e9481f" stroke="#e9481f">8</text>
<text class="b" transform="translate(497.60 803.50) scale(0.830 1)" fill="#e9481f" stroke="#e9481f">9</text>
<text class="b" transform="translate(497.60 827.00) scale(0.830 1)" fill="#e9481f" stroke="#e9481f">10</text>
<text class="b" transform="translate(521.60 687.00) scale(0.830 1)" fill="#e9481f" stroke="#e9481f">11</text>
<text class="d" transform="translate(521.60 710.65) scale(0.825 1)">12</text>
<text class="d" transform="translate(521.60 733.65) scale(0.825 1)">13</text>
<text class="d" transform="translate(521.60 757.40) scale(0.825 1)">14</text>
<text class="d" transform="translate(521.60 780.65) scale(0.825 1)">15</text>
<text class="d" transform="translate(521.60 803.90) scale(0.825 1)">16</text>
<text class="b" transform="translate(521.60 827.00) scale(0.830 1)" fill="#e9481f" stroke="#e9481f">17</text>
<text class="b" transform="translate(545.65 687.00) scale(0.830 1)" fill="#e9481f" stroke="#e9481f">18</text>
<text class="d" transform="translate(545.65 710.65) scale(0.825 1)">19</text>
<text class="b" transform="translate(545.65 733.25) scale(0.830 1)" fill="#e9481f" stroke="#e9481f">20</text>
<text class="d" transform="translate(545.65 757.40) scale(0.825 1)">21</text>
<text class="d" transform="translate(545.65 780.65) scale(0.825 1)">22</text>
<text class="b" transform="translate(545.65 803.50) scale(0.830 1)" fill="#e9481f" stroke="#e9481f">23</text>
<text class="b" transform="translate(545.65 827.00) scale(0.830 1)" fill="#5b9a2b" stroke="#5b9a2b">24</text>
<text class="b" transform="translate(570.00 687.00) scale(0.830 1)" fill="#e9481f" stroke="#e9481f">25</text>
<text class="d" transform="translate(570.00 710.65) scale(0.825 1)">26</text>
<text class="d" transform="translate(570.00 733.65) scale(0.825 1)">27</text>
<text class="d" transform="translate(570.00 757.40) scale(0.825 1)">28</text>
<text class="d" transform="translate(570.00 780.65) scale(0.825 1)">29</text>
<text class="d" transform="translate(570.00 803.90) scale(0.825 1)">30</text>
<text class="b" transform="translate(594.02 687.00) scale(0.830 1)" fill="#e9481f" stroke="#e9481f">30</text>
<text class="d" transform="translate(594.02 710.65) scale(0.825 1)">31</text>
<text class="d" transform="translate(594.02 827.40) scale(0.825 1)">1</text>
<text class="b" transform="translate(617.38 687.00) scale(0.830 1)" fill="#e9481f" stroke="#e9481f">2</text>
<text class="d" transform="translate(617.38 710.65) scale(0.825 1)">3</text>
<text class="d" transform="translate(617.38 733.65) scale(0.825 1)">4</text>
<text class="d" transform="translate(617.38 757.40) scale(0.825 1)">5</text>
<text class="d" transform="translate(617.38 780.65) scale(0.825 1)">6</text>
<text class="d" transform="translate(617.38 803.90) scale(0.825 1)">7</text>
<text class="b" transform="translate(617.38 827.00) scale(0.830 1)" fill="#e9481f" stroke="#e9481f">8</text>
<text class="b" transform="translate(641.35 687.00) scale(0.830 1)" fill="#e9481f" stroke="#e9481f">9</text>
<text class="d" transform="translate(641.35 710.65) scale(0.825 1)">10</text>
<text class="d" transform="translate(641.35 733.65) scale(0.825 1)">11</text>
<text class="d" transform="translate(641.35 757.40) scale(0.825 1)">12</text>
<text class="d" transform="translate(641.35 780.65) scale(0.825 1)">13</text>
<text class="d" transform="translate(641.35 803.90) scale(0.825 1)">14</text>
<text class="d" transform="translate(641.35 827.40) scale(0.825 1)">15</text>
<text class="b" transform="translate(667.35 687.00) scale(0.830 1)" fill="#e9481f" stroke="#e9481f">16</text>
<text class="d" transform="translate(667.35 710.65) scale(0.825 1)">17</text>
<text class="d" transform="translate(667.35 733.65) scale(0.825 1)">18</text>
<text class="d" transform="translate(667.35 757.40) scale(0.825 1)">19</text>
<text class="d" transform="translate(667.35 780.65) scale(0.825 1)">20</text>
<text class="d" transform="translate(667.35 803.90) scale(0.825 1)">21</text>
<text class="b" transform="translate(667.35 827.00) scale(0.830 1)" fill="#5b9a2b" stroke="#5b9a2b">22</text>
<text class="b" transform="translate(695.50 687.00) scale(0.830 1)" fill="#e9481f" stroke="#e9481f">23</text>
<text class="d" transform="translate(695.50 710.65) scale(0.825 1)">24</text>
<text class="b" transform="translate(695.50 733.25) scale(0.830 1)" fill="#e9481f" stroke="#e9481f">25</text>
<text class="d" transform="translate(695.50 757.40) scale(0.825 1)">26</text>
<text class="d" transform="translate(695.50 780.65) scale(0.825 1)">27</text>
<text class="d" transform="translate(695.50 803.90) scale(0.825 1)">28</text>
<text class="b" transform="translate(695.50 827.00) scale(0.830 1)" fill="#e9481f" stroke="#e9481f">29</text>
<text class="nt" transform="translate(216.00 283.00) scale(1 1.050)" textLength="89.0" lengthAdjust="spacingAndGlyphs">26 Republic Day</text>
<text class="nt" transform="translate(344.25 283.00) scale(1 1.050)" textLength="11.8" lengthAdjust="spacingAndGlyphs">19</text>
<text class="nt" transform="translate(364.25 283.00) scale(1 1.050)" textLength="63.8" lengthAdjust="spacingAndGlyphs">Chhatrapati</text>
<text class="nt" transform="translate(364.25 297.25) scale(1 1.050)" textLength="83.5" lengthAdjust="spacingAndGlyphs">Shivaji Maharaj</text>
<text class="nt" transform="translate(364.25 311.50) scale(1 1.050)" textLength="38.5" lengthAdjust="spacingAndGlyphs">Jayanti</text>
<text class="nt" transform="translate(468.30 283.00) scale(1 1.050)">2</text>
<text class="nt" transform="translate(488.30 283.00) scale(1 1.050)">Holi (2<tspan dy="-3.6" font-size="6.2">nd</tspan><tspan dy="3.6"> Day)</tspan></text>
<text class="nt" transform="translate(468.30 297.25) scale(1 1.050)">29</text>
<text class="nt" transform="translate(488.30 297.25) scale(1 1.050)" textLength="86.7" lengthAdjust="spacingAndGlyphs">Mahavir Jayanti</text>
<text class="nt" transform="translate(468.30 311.50) scale(1 1.050)">30</text>
<text class="nt" transform="translate(488.30 311.50) scale(1 1.050)" textLength="66.7" lengthAdjust="spacingAndGlyphs">Good Friday</text>
<text class="nt" transform="translate(468.30 326.00) scale(1 1.050)">31</text>
<text class="nt" transform="translate(488.30 326.00) scale(1 1.050)" textLength="41.7" lengthAdjust="spacingAndGlyphs">Holiday</text>
<text class="nt" transform="translate(586.70 283.00) scale(1 1.050)" textLength="108.3" lengthAdjust="spacingAndGlyphs">30 Buddha Purnima</text>
<text class="nt" transform="translate(217.00 559.70) scale(1 1.050)">1</text>
<text class="nt" transform="translate(230.70 559.70) scale(1 1.050)" textLength="91.6" lengthAdjust="spacingAndGlyphs">Maharashtra Day</text>
<text class="nt" transform="translate(344.70 559.70) scale(1 1.050)" textLength="11.0" lengthAdjust="spacingAndGlyphs">16</text>
<text class="nt" transform="translate(364.70 559.70) scale(1 1.050)" textLength="56.6" lengthAdjust="spacingAndGlyphs">Ramzan Id</text>
<text class="nt" transform="translate(585.40 557.25) scale(1 1.050)">15</text>
<text class="nt" transform="translate(601.30 557.25) scale(1 1.050)" textLength="76.0" lengthAdjust="spacingAndGlyphs">Independence</text>
<text class="nt" transform="translate(601.30 572.25) scale(1 1.050)" textLength="19.9" lengthAdjust="spacingAndGlyphs">Day</text>
<text class="nt" transform="translate(585.40 586.50) scale(1 1.050)">17</text>
<text class="nt" transform="translate(601.30 586.50) scale(1 1.050)" textLength="82.0" lengthAdjust="spacingAndGlyphs">Parsi New Year</text>
<text class="nt" transform="translate(585.40 600.50) scale(1 1.050)">18</text>
<text class="nt" transform="translate(601.30 600.50) scale(1 1.050)" textLength="41.7" lengthAdjust="spacingAndGlyphs">Holiday</text>
<text class="nt" transform="translate(584.60 614.60) scale(1 1.050)">22</text>
<text class="nt" transform="translate(601.30 614.60) scale(1 1.050)" textLength="42.6" lengthAdjust="spacingAndGlyphs">Bakri Id</text>
<text class="nt" transform="translate(216.30 852.70) scale(1 1.050)">13</text>
<text class="nt" transform="translate(233.70 852.70) scale(1 1.050)" textLength="93.6" lengthAdjust="spacingAndGlyphs">Ganesh Chaturthi</text>
<text class="nt" transform="translate(216.30 866.70) scale(1 1.050)">15</text>
<text class="nt" transform="translate(233.70 866.70) scale(1 1.050)" textLength="40.3" lengthAdjust="spacingAndGlyphs">Holiday</text>
<text class="nt" transform="translate(216.30 880.70) scale(1 1.050)">20</text>
<text class="nt" transform="translate(233.70 880.70) scale(1 1.050)" textLength="56.6" lengthAdjust="spacingAndGlyphs">Moharrum</text>
<text class="nt" transform="translate(345.70 851.30) scale(1 1.050)">2</text>
<text class="nt" transform="translate(362.00 851.30) scale(1 1.050)" textLength="93.7" lengthAdjust="spacingAndGlyphs">Mahatma Gandhi</text>
<text class="nt" transform="translate(362.00 865.70) scale(1 1.050)" textLength="38.7" lengthAdjust="spacingAndGlyphs">Jayanti</text>
<text class="nt" transform="translate(345.70 879.50) scale(1 1.050)">18</text>
<text class="nt" transform="translate(362.00 879.50) scale(1 1.050)" textLength="37.0" lengthAdjust="spacingAndGlyphs">Dasara</text>
<text class="nt" transform="translate(468.70 851.30) scale(1 1.050)">5</text>
<text class="nt" transform="translate(485.30 851.30) scale(1 1.050)" textLength="20.7" lengthAdjust="spacingAndGlyphs">to 9</text>
<text class="nt" transform="translate(513.30 851.30) scale(1 1.050)" textLength="34.4" lengthAdjust="spacingAndGlyphs">Diwali</text>
<text class="nt" transform="translate(513.30 866.00) scale(1 1.050)" textLength="46.0" lengthAdjust="spacingAndGlyphs">Holidays</text>
<text class="nt" transform="translate(468.70 880.00) scale(1 1.050)">20</text>
<text class="nt" transform="translate(485.30 880.00) scale(1 1.050)" textLength="59.7" lengthAdjust="spacingAndGlyphs">Id-E- Milad</text>
<text class="nt" transform="translate(468.70 894.30) scale(1 1.050)">23</text>
<text class="nt" transform="translate(485.30 894.30) scale(1 1.050)" textLength="65.7" lengthAdjust="spacingAndGlyphs">Guru Nanak</text>
<text class="nt" transform="translate(488.30 908.30) scale(1 1.050)" textLength="39.4" lengthAdjust="spacingAndGlyphs">Jayanti</text>
<text class="nt" transform="translate(586.70 850.70) scale(1 1.050)" textLength="71.0" lengthAdjust="spacingAndGlyphs">25 Christmas</text>
</svg></body></html>
